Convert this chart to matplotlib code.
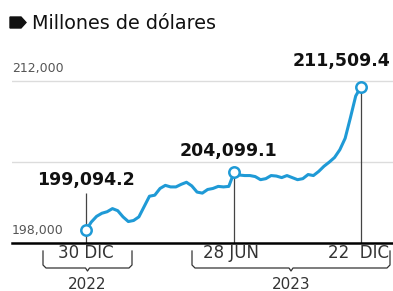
import matplotlib
matplotlib.use('Agg')
import matplotlib.pyplot as plt
from matplotlib.patches import Polygon

plt.rcParams['font.family'] = ['DejaVu Sans']

# weekly readings, millions of dollars (30 Dec 2022 -> 22 Dec 2023)
values = [199094.2, 199811, 200302, 200570, 200704, 200972, 200793, 200257,
          199855, 199945, 200257, 201150, 202043, 202132, 202713, 202981,
          202847, 202847, 203070, 203249, 202936, 202400, 202311, 202624,
          202713, 202892, 202847, 202892, 204099.1, 203874, 203829, 203829,
          203740, 203472, 203561, 203829, 203785, 203651, 203829, 203651,
          203472, 203561, 203918, 203829, 204186, 204633, 204990, 205392,
          206062, 207044, 208830, 210705, 211509.4]
idx = list(range(len(values)))

hl_idx = [0, 28, 52]
hl_labels = ['199,094.2', '204,099.1', '211,509.4']
date_labels = ['30 DIC', '28 JUN', '22  DIC']
yticks = [198000, 205000, 212000]
ytick_labels = ['198,000', '', '212,000']
years = ['2022', '2023']

blue = '#1f9ad6'
W, H = 393, 291
fig = plt.figure(figsize=(W / 100, H / 100), dpi=100)

# main chart area, pixel box -> figure fraction
L, R, T, B = 12, 393, 60, 243
ax = fig.add_axes([L / W, 1 - B / H, (R - L) / W, (B - T) / H])
step = (361 - 86) / 52
ax.set_xlim((L - 86) / step, (R - 86) / step)
ax.set_ylim(198000, 198000 + (B - T) * 7000 / 81)

for yv in yticks[1:]:
    ax.axhline(yv, color='#dcdcdc', lw=1, zorder=0)
for yv, lab in zip(yticks, ytick_labels):
    if lab:
        ax.annotate(lab, (0, yv), xycoords=('axes fraction', 'data'),
                    xytext=(0, 4), textcoords='offset points',
                    fontsize=9, color='#555555', va='bottom', ha='left')

# drop lines
ax.vlines(hl_idx[0], 198000, values[hl_idx[0]] + 3200, color='#444444', lw=0.9, zorder=1)
ax.vlines(hl_idx[1:], 198000, [values[i] for i in hl_idx[1:]], color='#444444', lw=0.9, zorder=1)

ax.plot(idx, values, color=blue, lw=2.2, zorder=3, solid_joinstyle='round')
ax.plot(hl_idx, [values[i] for i in hl_idx], 'o', ms=7.5, mfc='white',
        mec=blue, mew=1.8, zorder=4, clip_on=False)

offsets = [(0, 30, 'center'), (-4, 9, 'center'), (21, 12, 'right')]
for i, lab, (dx, dy, ha) in zip(hl_idx, hl_labels, offsets):
    ax.annotate(lab, (i, values[i]), xytext=(dx, dy), textcoords='offset points',
                ha=ha, va='bottom', fontsize=12.5, fontweight='bold',
                color='#111111', annotation_clip=False)

for s in ['top', 'right', 'left']:
    ax.spines[s].set_visible(False)
ax.spines['bottom'].set_linewidth(1.8)
ax.spines['bottom'].set_color('black')
ax.set_xticks([])
ax.set_yticks([])
ax.patch.set_alpha(0)

# overlay in pixel coordinates for title and brackets
ov = fig.add_axes([0, 0, 1, 1], zorder=-1)
ov.set_xlim(0, W)
ov.set_ylim(H, 0)
ov.axis('off')

ov.add_patch(Polygon([[10, 17], [21, 17], [26, 22.5], [21, 28], [10, 28]],
                     closed=True, color='#111111'))
ov.text(32, 29, 'Millones de dólares', fontsize=13.8, color='#111111',
        va='baseline', ha='left')

xpx = [86 + i * step for i in hl_idx]
ov.text(xpx[0], 258, date_labels[0], ha='center', va='baseline', fontsize=12, color='#333333')
ov.text(xpx[1] - 3, 258, date_labels[1], ha='center', va='baseline', fontsize=12, color='#333333')
ov.text(389, 258, date_labels[2], ha='right', va='baseline', fontsize=12, color='#333333')


def bracket(x0, x1, y0=251, y1=268, r=3):
    xm = (x0 + x1) / 2
    ov.plot([x0, x0, x0 + r, xm - 2, xm, xm + 2, x1 - r, x1, x1],
            [y0, y1 - r, y1, y1, y1 + 3, y1, y1, y1 - r, y0],
            color='#333333', lw=0.9)
    return xm


for (x0, x1), yr in zip([(43, 132), (192, 390)], years):
    xm = bracket(x0, x1)
    ov.text(xm, 277, yr, ha='center', va='top', fontsize=11, color='#333333')

fig.savefig('out.png', dpi=100)
